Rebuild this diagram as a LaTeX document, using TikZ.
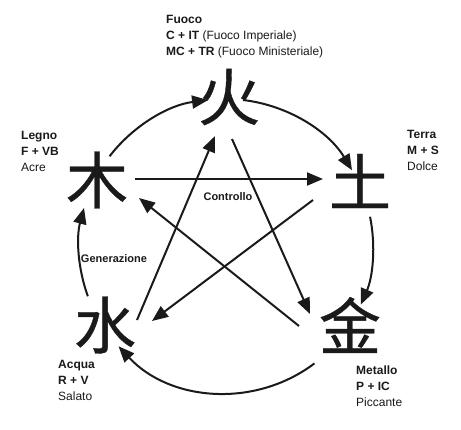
\documentclass[tikz,border=0pt]{standalone}
\usepackage{fontspec}
\setmainfont{Liberation Sans}
\newfontfamily\cjk{Noto Sans CJK SC}[FakeBold=0.6]
\usetikzlibrary{arrows.meta}
\definecolor{ink}{HTML}{1A1A1A}
\begin{document}
\begin{tikzpicture}[x=1pt,y=-1pt,
  conn/.style={line width=2pt, draw=ink, -{Triangle[length=16pt,width=13pt]}},
  hanzi/.style={font=\cjk\fontsize{62}{62}\selectfont, inner sep=0pt, text=ink},
  info/.style={anchor=north west, inner sep=0pt, align=left, font=\fontsize{12}{16}\selectfont, text=ink},
  lbl/.style={font=\bfseries\fontsize{11}{13}\selectfont, inner sep=0pt, text=ink}]
\fill[white] (0,0) rectangle (461,429);
\useasboundingbox (0,0) rectangle (461,429);

% characters
\node[hanzi] (huo)  at (229,97)  {火};
\node[hanzi] (tu)   at (360,181) {土};
\node[hanzi] (jin)  at (350,325) {金};
\node[hanzi] (shui) at (105,325) {水};
\node[hanzi] (mu)   at (97,180)  {木};

% info texts
\node[info] (fuoco) at (166,15.5) {\textbf{Fuoco}\\\textbf{C + IT} (Fuoco Imperiale)\\\textbf{MC + TR} (Fuoco Ministeriale)};
\node[info] (legno) at (21,131) {\textbf{Legno}\\\textbf{F + VB}\\Acre};
\node[info] (terra) at (407,130) {\textbf{Terra}\\\textbf{M + S}\\Dolce};
\node[info] (acqua) at (58,360) {\textbf{Acqua}\\\textbf{R + V}\\Salato};
\node[info] (metallo) at (356,366) {\textbf{Metallo}\\\textbf{P + IC}\\Piccante};

\node[lbl] (gen) at (114,259) {Generazione};
\node[lbl] (ctl) at (228,197) {Controllo};

% generation cycle (arcs)
\coordinate (C) at (226,246);
\path (C) ++(-142.4:147) coordinate (g1s);
\path (C) ++(-83.4:147) coordinate (g2s);
\path (C) ++(-11.5:147) coordinate (g3s);
\path (C) ++(53:147) coordinate (g4s);
\path (C) ++(160:147) coordinate (g5s);
\draw[conn] (g1s) arc[start angle=-142.4, end angle=-97, radius=147];
\draw[conn] (g2s) arc[start angle=-83.4, end angle=-31, radius=147];
\draw[conn] (g3s) arc[start angle=-11.5, end angle=23.5, radius=147];
\draw[conn] (g4s) arc[start angle=53, end angle=137, radius=147];
\draw[conn] (g5s) arc[start angle=160, end angle=195, radius=147];

% control cycle (star)
\coordinate (muOut) at (135,179);   \coordinate (tuIn) at (323,179);
\coordinate (huoOut) at (232,139);  \coordinate (jinIn) at (310,314);
\coordinate (shuiOut) at (137,320); \coordinate (huoIn) at (215,136);
\coordinate (tuOut) at (313,200);   \coordinate (shuiIn) at (152,321);
\coordinate (jinOut) at (299,326);  \coordinate (muIn) at (139,198);
\draw[conn] (muOut) -- (tuIn);
\draw[conn] (huoOut) -- (jinIn);
\draw[conn] (shuiOut) -- (huoIn);
\draw[conn] (tuOut) -- (shuiIn);
\draw[conn] (jinOut) -- (muIn);
\end{tikzpicture}
\end{document}
